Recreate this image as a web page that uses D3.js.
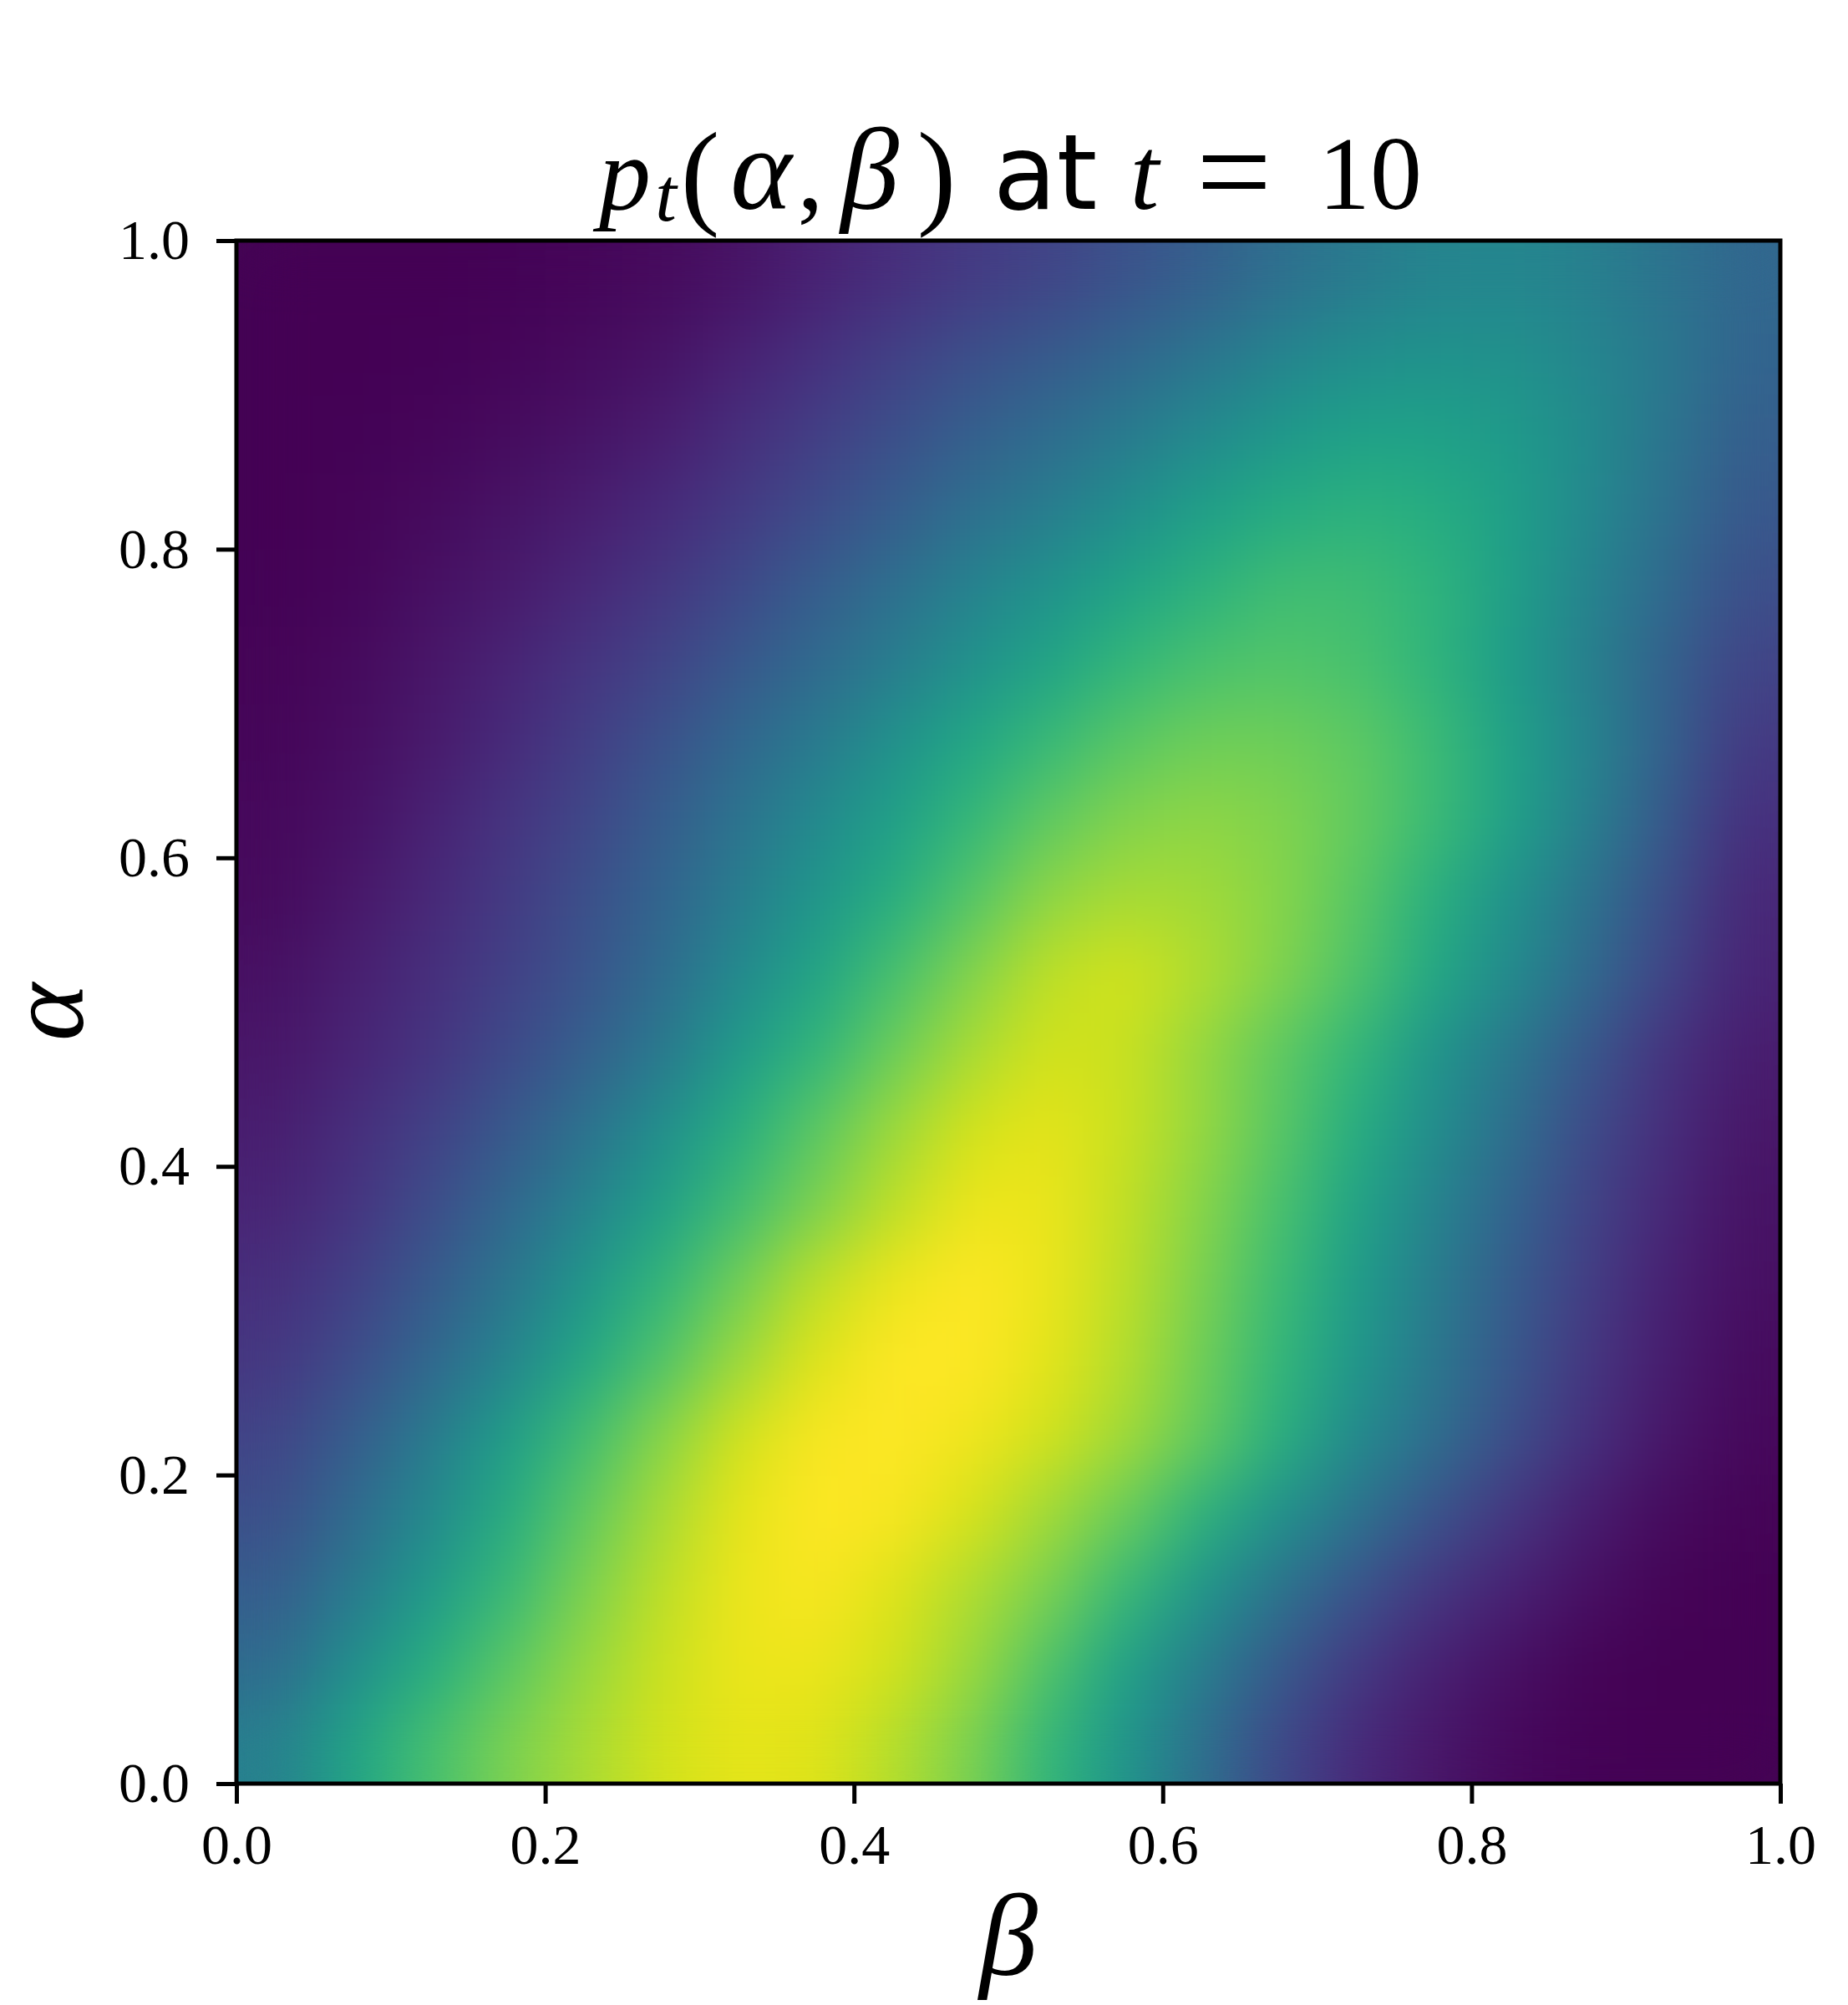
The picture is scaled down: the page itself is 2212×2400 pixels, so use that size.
<!DOCTYPE html>
<meta charset="utf-8">
<title>p_t(alpha, beta) at t = 10</title>
<style>
body {
  margin: 0px;
  background: #fff;
}
.tick text {
  font-family: "Liberation Serif", serif;
  font-size: 68px;
  fill: #000;
}
.tick line {
  stroke: #000;
  stroke-width: 5;
}
.math {
  font-family: "Liberation Serif", serif;
  font-style: italic;
}
</style>

<script src="https://d3js.org/d3.v7.min.js"></script>

<body>
<script>
// cell centres of the density grid
var betaCols = [0.025, 0.075, 0.125, 0.175, 0.225, 0.275, 0.325, 0.375, 0.425, 0.475,
                0.525, 0.575, 0.625, 0.675, 0.725, 0.775, 0.825, 0.875, 0.925, 0.975];
var alphaRows = [0.975, 0.925, 0.875, 0.825, 0.775, 0.725, 0.675, 0.625, 0.575, 0.525,
                 0.475, 0.425, 0.375, 0.325, 0.275, 0.225, 0.175, 0.125, 0.075, 0.025];
var tickValues = [0, 0.2, 0.4, 0.6, 0.8, 1.0];

// normalised p_t(alpha, beta), one row per alpha (top row first)
var density = [
  [0, 0, 0, 0.005, 0.015, 0.025, 0.05, 0.09, 0.13, 0.17, 0.2, 0.25, 0.3, 0.36, 0.41, 0.45, 0.46, 0.43, 0.38, 0.33],
  [0, 0, 0.005, 0.015, 0.03, 0.05, 0.09, 0.14, 0.19, 0.24, 0.28, 0.33, 0.39, 0.45, 0.49, 0.51, 0.5, 0.46, 0.4, 0.32],
  [0, 0.005, 0.015, 0.03, 0.05, 0.08, 0.13, 0.18, 0.24, 0.3, 0.35, 0.41, 0.47, 0.53, 0.57, 0.57, 0.54, 0.48, 0.39, 0.3],
  [0, 0.01, 0.025, 0.05, 0.08, 0.12, 0.17, 0.23, 0.29, 0.36, 0.42, 0.49, 0.56, 0.61, 0.64, 0.62, 0.56, 0.47, 0.37, 0.27],
  [0.005, 0.015, 0.04, 0.07, 0.11, 0.16, 0.22, 0.29, 0.36, 0.44, 0.51, 0.58, 0.64, 0.69, 0.69, 0.65, 0.56, 0.45, 0.34, 0.24],
  [0.01, 0.025, 0.055, 0.1, 0.15, 0.2, 0.27, 0.34, 0.42, 0.5, 0.58, 0.66, 0.71, 0.73, 0.71, 0.65, 0.55, 0.43, 0.31, 0.2],
  [0.015, 0.035, 0.07, 0.12, 0.18, 0.25, 0.33, 0.41, 0.5, 0.59, 0.67, 0.74, 0.78, 0.78, 0.75, 0.68, 0.57, 0.45, 0.31, 0.17],
  [0.02, 0.045, 0.09, 0.15, 0.21, 0.29, 0.38, 0.47, 0.56, 0.66, 0.75, 0.81, 0.83, 0.81, 0.76, 0.68, 0.57, 0.43, 0.28, 0.14],
  [0.025, 0.06, 0.11, 0.17, 0.24, 0.32, 0.42, 0.52, 0.62, 0.73, 0.83, 0.87, 0.86, 0.82, 0.74, 0.63, 0.51, 0.38, 0.24, 0.11],
  [0.04, 0.085, 0.13, 0.19, 0.26, 0.35, 0.47, 0.58, 0.7, 0.81, 0.9, 0.93, 0.88, 0.81, 0.72, 0.6, 0.48, 0.34, 0.21, 0.1],
  [0.055, 0.1, 0.15, 0.22, 0.3, 0.4, 0.54, 0.65, 0.77, 0.87, 0.93, 0.92, 0.84, 0.75, 0.66, 0.52, 0.4, 0.27, 0.15, 0.08],
  [0.08, 0.13, 0.19, 0.27, 0.37, 0.49, 0.62, 0.74, 0.85, 0.93, 0.96, 0.92, 0.84, 0.74, 0.62, 0.49, 0.36, 0.23, 0.13, 0.06],
  [0.1, 0.15, 0.23, 0.33, 0.44, 0.56, 0.69, 0.8, 0.9, 0.97, 0.97, 0.91, 0.82, 0.71, 0.58, 0.45, 0.32, 0.2, 0.11, 0.05],
  [0.13, 0.19, 0.28, 0.39, 0.52, 0.65, 0.78, 0.9, 0.97, 1.0, 0.97, 0.9, 0.8, 0.68, 0.55, 0.42, 0.29, 0.18, 0.09, 0.04],
  [0.16, 0.23, 0.33, 0.45, 0.59, 0.72, 0.85, 0.95, 1.0, 1.0, 0.96, 0.89, 0.78, 0.66, 0.53, 0.4, 0.27, 0.16, 0.08, 0.03],
  [0.2, 0.29, 0.41, 0.55, 0.69, 0.82, 0.93, 0.99, 1.0, 0.98, 0.93, 0.86, 0.76, 0.63, 0.48, 0.36, 0.24, 0.14, 0.06, 0.02],
  [0.24, 0.34, 0.47, 0.61, 0.75, 0.87, 0.96, 1.0, 0.99, 0.94, 0.86, 0.77, 0.64, 0.51, 0.38, 0.26, 0.16, 0.08, 0.03, 0.01],
  [0.29, 0.41, 0.54, 0.67, 0.8, 0.9, 0.97, 0.99, 0.95, 0.88, 0.8, 0.67, 0.52, 0.38, 0.26, 0.16, 0.09, 0.04, 0.01, 0],
  [0.35, 0.49, 0.62, 0.74, 0.84, 0.92, 0.97, 0.97, 0.93, 0.85, 0.72, 0.57, 0.42, 0.28, 0.17, 0.09, 0.04, 0.01, 0, 0],
  [0.43, 0.58, 0.7, 0.8, 0.87, 0.93, 0.96, 0.95, 0.89, 0.8, 0.66, 0.52, 0.36, 0.22, 0.12, 0.06, 0.02, 0.005, 0, 0]
];

var width = 2212, height = 2400;
var margin = {top: 288, left: 283};
var w = 1848, h = 1847;

var svg = d3.select("body").append("svg")
    .attr("width", width)
    .attr("height", height);

// soften the coarse grid so it reads like the fine image
var filter = svg.append("defs").append("filter")
    .attr("id", "smooth")
    .attr("x", 0).attr("y", 0).attr("width", 1).attr("height", 1)
    .attr("color-interpolation-filters", "sRGB");
filter.append("feGaussianBlur").attr("stdDeviation", 40);
filter.append("feComponentTransfer")
  .append("feFuncA").attr("type", "table").attr("tableValues", "1 1");

var g = svg.append("g")
    .attr("transform", "translate(" + margin.left + "," + margin.top + ")");

var x = d3.scaleLinear().domain([0, 1]).range([0, w]);
var y = d3.scaleLinear().domain([0, 1]).range([h, 0]);
var color = d3.scaleSequential(d3.interpolateViridis).domain([0, 1]);

var cellW = x(0.05) - x(0), cellH = y(0) - y(0.05);
var cells = [];
density.forEach(function(row, i) {
  row.forEach(function(v, j) {
    cells.push({a: alphaRows[i], b: betaCols[j], v: v});
  });
});

g.append("g")
    .attr("filter", "url(#smooth)")
  .selectAll("rect")
    .data(cells)
  .enter().append("rect")
    .attr("x", function(d) { return x(d.b) - cellW / 2; })
    .attr("y", function(d) { return y(d.a) - cellH / 2; })
    .attr("width", cellW + 0.5)
    .attr("height", cellH + 0.5)
    .attr("fill", function(d) { return color(d.v); });

function clean(sel) {
  sel.select(".domain").remove();
  sel.attr("font-size", null).attr("font-family", null);
}

g.append("g")
    .attr("transform", "translate(0," + h + ")")
    .call(d3.axisBottom(x).tickValues(tickValues).tickFormat(d3.format(".1f"))
      .tickSize(24).tickPadding(24))
    .call(clean);

g.append("g")
    .call(d3.axisLeft(y).tickValues(tickValues).tickFormat(d3.format(".1f"))
      .tickSize(24).tickPadding(32))
    .call(clean);

g.append("rect")
    .attr("width", w)
    .attr("height", h)
    .attr("fill", "none")
    .attr("stroke", "#000")
    .attr("stroke-width", 5);

// axis labels
svg.append("text")
    .attr("class", "math")
    .attr("x", margin.left + w / 2)
    .attr("y", 2364)
    .attr("text-anchor", "middle")
    .attr("font-size", 140)
    .text("β");

svg.append("text")
    .attr("class", "math")
    .attr("transform", "translate(99," + (margin.top + h / 2) + ") rotate(-90)")
    .attr("text-anchor", "middle")
    .attr("font-size", 132)
    .text("α");

// title: p_t(α, β) at t = 10, each piece centred where the reference sets it
var titleParts = [
  {t: "p",  cx: 748,  y: 250, it: true},
  {t: "t",  cx: 797,  y: 264, it: true, size: 92},
  {t: "(",  cx: 838,  y: 255, size: 140},
  {t: "α",  cx: 911,  y: 250, it: true, size: 140},
  {t: ",",  cx: 970,  y: 250},
  {t: "β",  cx: 1041, y: 250, it: true, size: 140},
  {t: ")",  cx: 1121, y: 255, size: 140},
  {t: "at", cx: 1251, y: 250, sans: true},
  {t: "t",  cx: 1370, y: 250, it: true},
  {t: "=",  cx: 1477, y: 259, size: 160},
  {t: "10", cx: 1640, y: 250}
];

var title = svg.append("text")
    .attr("text-anchor", "middle")
    .attr("font-size", 124)
    .attr("font-family", "'Liberation Serif', serif");

titleParts.forEach(function(p) {
  var span = title.append("tspan")
      .attr("x", p.cx)
      .attr("y", p.y)
      .text(p.t);
  if (p.size) span.attr("font-size", p.size);
  if (p.it) span.attr("font-style", "italic");
  if (p.sans) span.attr("font-family", "'DejaVu Sans', sans-serif");
});
</script>
